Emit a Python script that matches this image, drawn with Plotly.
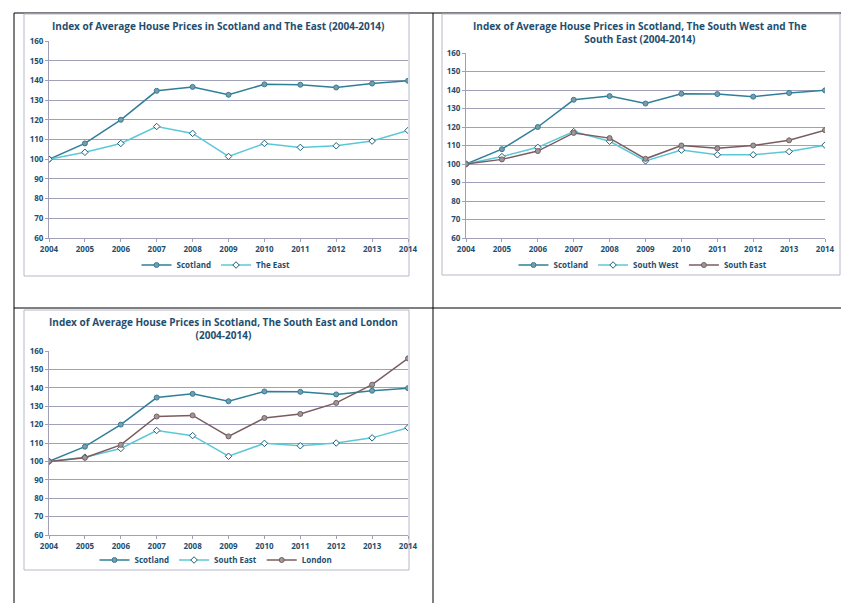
import plotly.graph_objects as go

years = [2004, 2005, 2006, 2007, 2008, 2009, 2010, 2011, 2012, 2013, 2014]
scotland = [100, 108, 120, 134.7, 136.7, 132.7, 138, 137.8, 136.4, 138.4, 139.8]
the_east = [100, 103.5, 108, 116.6, 113.1, 101.4, 108, 106, 106.8, 109.2, 114.6]
south_west = [100, 104, 109, 117.5, 112.3, 101.7, 107.5, 105, 105, 106.7, 110.2]
south_east_2 = [100, 102.5, 107, 116.8, 114, 102.8, 110, 108.5, 110, 112.8, 118.3]
south_east_3 = [100, 102.3, 107, 116.8, 114, 102.8, 109.8, 108.5, 110, 112.8, 118.3]
london = [100, 102, 109, 124.4, 125, 113.6, 123.6, 125.8, 131.8, 141.7, 156]
y_ticks = list(range(60, 161, 10))

W, H = 849, 603
def px(x): return x / W
def py(y): return 1 - y / H

C_SCOT = "#2F7F98"
C_LIGHT = "#5BC8D8"
C_BROWN = "#7A5C60"
TXT = "#1F4E6E"
FONT = "Open Sans"

fig = go.Figure()

def add(name, ys, color, mfill, mline, xa, ya, leg, msize=5):
    fig.add_trace(go.Scatter(
        x=years, y=ys, name=name, mode="lines+markers",
        line=dict(color=color, width=1.5),
        marker=dict(symbol="circle" if mfill != "white" else "diamond", size=msize,
                    color=mfill, line=dict(color=mline, width=1)),
        xaxis=xa, yaxis=ya, legend=leg))

add("Scotland", scotland, C_SCOT, "#7E9AA8", C_SCOT, "x", "y", "legend")
add("The East", the_east, C_LIGHT, "white", "#1F5F78", "x", "y", "legend")
add("Scotland", scotland, C_SCOT, "#7E9AA8", C_SCOT, "x2", "y2", "legend2")
add("South West", south_west, C_LIGHT, "white", "#1F5F78", "x2", "y2", "legend2")
add("South East", south_east_2, C_BROWN, "#9A9A9A", C_BROWN, "x2", "y2", "legend2")
add("Scotland", scotland, C_SCOT, "#7E9AA8", C_SCOT, "x3", "y3", "legend3")
add("South East", south_east_3, C_LIGHT, "white", "#1F5F78", "x3", "y3", "legend3")
add("London", london, C_BROWN, "#9A9A9A", C_BROWN, "x3", "y3", "legend3")

charts = [
    ("", (41, 400), (33, 230)),
    ("2", (458, 817), (45, 230)),
    ("3", (41, 400), (343, 527)),
]
lay = {}
for s, (x0, x1), (y0, y1) in charts:
    lay["xaxis" + s] = dict(domain=[px(x0), px(x1)], anchor="y" + s, range=[2004, 2014],
                            tickvals=years, showgrid=False, showline=True, linecolor="#A0A0B8",
                            ticks="outside", ticklen=3, tickcolor="#A0A0B8", automargin=False,
                            tickfont=dict(family=FONT, size=8, color=TXT, weight="bold"))
    lay["yaxis" + s] = dict(domain=[py(y1), py(y0)], anchor="x" + s, range=[60, 160],
                            tickvals=y_ticks, showgrid=True, gridcolor="#A0A0B8", gridwidth=1,
                            showline=True, linecolor="#A0A0B8", zeroline=False, automargin=False,
                            ticks="outside", ticklen=3, tickcolor="#A0A0B8",
                            tickfont=dict(family=FONT, size=8, color=TXT, weight="bold"))

legend_common = dict(orientation="h", xanchor="center", yanchor="middle",
                     font=dict(family=FONT, size=8, color=TXT, weight="bold"),
                     bgcolor="rgba(0,0,0,0)", itemwidth=30, tracegroupgap=0)
lay["legend"] = dict(legend_common, x=px(208), y=py(257))
lay["legend2"] = dict(legend_common, x=px(635), y=py(257))
lay["legend3"] = dict(legend_common, x=px(208), y=py(552))

ann = []
def title(text, x, y):
    ann.append(dict(text=text, x=px(x), y=py(y), xref="paper", yref="paper", showarrow=False,
                    xanchor="center", yanchor="middle",
                    font=dict(family=FONT, size=10, color=TXT, weight="bold"), align="center"))
title("Index of Average House Prices in Scotland and The East (2004-2014)", 210, 18)
title("Index of Average House Prices in Scotland, The South West and The<br>South East (2004-2014)", 632, 24)
title("Index of Average House Prices in Scotland, The South East and London<br>(2004-2014)", 215, 320)

shapes = []
def rect(x0, y0, x1, y1, color, w):
    shapes.append(dict(type="rect", xref="paper", yref="paper", x0=px(x0), x1=px(x1),
                       y0=py(y1), y1=py(y0), line=dict(color=color, width=w), layer="below"))
def line(x0, y0, x1, y1):
    shapes.append(dict(type="line", xref="paper", yref="paper", x0=px(x0), x1=px(x1),
                       y0=py(y0), y1=py(y1), line=dict(color="black", width=1)))
rect(6, 5, 843, 597, "black", 1)
line(425, 5, 425, 597)
line(6, 300, 843, 300)
rect(16, 6, 401, 268, "#B8B8C8", 1)
rect(434, 6, 832, 267, "#B8B8C8", 1)
rect(16, 302, 401, 562, "#B8B8C8", 1)

fig.update_layout(width=W, height=H, margin=dict(l=0, r=0, t=0, b=0, autoexpand=False),
                  paper_bgcolor="white", plot_bgcolor="white",
                  annotations=ann, shapes=shapes, **lay)
fig.write_html("out.html")
